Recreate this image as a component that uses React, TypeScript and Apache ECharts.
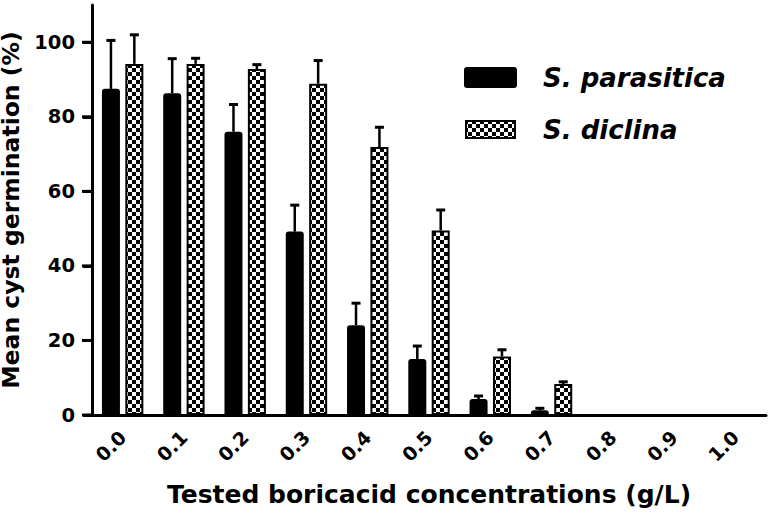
import React, { useEffect, useRef } from "react";
import * as echarts from "echarts";

const categories = ["0.0", "0.1", "0.2", "0.3", "0.4", "0.5", "0.6", "0.7", "0.8", "0.9", "1.0"];
const parasitica = [87.5, 86.3, 76.0, 49.2, 24.1, 15.0, 4.3, 1.3, 0, 0, 0];
const parasiticaErr = [13.0, 9.3, 7.3, 7.1, 5.9, 3.5, 0.8, 0.5, 0, 0, 0];
const diclina = [94.2, 94.2, 92.8, 88.9, 71.9, 49.5, 15.7, 8.3, 0, 0, 0];
const diclinaErr = [7.8, 1.5, 1.2, 6.2, 5.3, 5.5, 1.8, 0.6, 0, 0, 0];
const yTicks = [0, 20, 40, 60, 80, 100];
const seriesNames = ["S. parasitica", "S. diclina"];

const FONT = "DejaVu Sans";
const GRID = { left: 92, right: 5, top: 5, bottom: 98 };
const Y_MAX = 110;

function makeChecker(): HTMLCanvasElement {
  const c = document.createElement("canvas");
  c.width = 8;
  c.height = 8;
  const ctx = c.getContext("2d")!;
  ctx.fillStyle = "#ffffff";
  ctx.fillRect(0, 0, 8, 8);
  ctx.fillStyle = "#000000";
  ctx.fillRect(0, 0, 4, 4);
  ctx.fillRect(4, 4, 4, 4);
  return c;
}

export default function App() {
  const ref = useRef<HTMLDivElement>(null);
  useEffect(() => {
    if (!ref.current) return;
    const chart = echarts.init(ref.current, null, { renderer: "svg" });
    const checker = { image: makeChecker(), repeat: "repeat" } as any;
    const OFF = 11.7;
    const errSeries = (vals: number[], errs: number[], offset: number) => ({
      type: "custom",
      data: vals.map((v, i) => [i, v, errs[i]]),
      z: 5,
      renderItem: (params: any, api: any) => {
        const i = api.value(0);
        const v = api.value(1);
        const e = api.value(2);
        if (!e) return null;
        const base = api.coord([i, v]);
        const top = api.coord([i, v + e]);
        const x = base[0] + offset;
        return {
          type: "group",
          children: [
            { type: "line", shape: { x1: x, y1: base[1], x2: x, y2: top[1] }, style: { stroke: "#000", lineWidth: 2.5 } },
            { type: "line", shape: { x1: x - 4.5, y1: top[1], x2: x + 4.5, y2: top[1] }, style: { stroke: "#000", lineWidth: 3 } },
          ],
        };
      },
    });
    const legendGraphics: any[] = [
      { type: "rect", shape: { x: 464, y: 67, width: 53, height: 21, r: 3 }, style: { fill: "#000" } },
      { type: "rect", shape: { x: 466, y: 121, width: 49, height: 17 }, style: { fill: checker, stroke: "#000", lineWidth: 2 } },
      {
        type: "text", x: 543, y: 78,
        style: { text: seriesNames[0], fontFamily: FONT, fontWeight: "bold", fontStyle: "italic", fontSize: 26, fill: "#000", verticalAlign: "middle" },
      },
      {
        type: "text", x: 543, y: 130,
        style: { text: seriesNames[1], fontFamily: FONT, fontWeight: "bold", fontStyle: "italic", fontSize: 26, fill: "#000", verticalAlign: "middle" },
      },
    ];
    chart.setOption({
      animation: false,
      grid: { ...GRID, containLabel: false, outerBoundsMode: "none" },
      xAxis: {
        type: "category",
        data: categories,
        name: "Tested boricacid concentrations (g/L)",
        nameLocation: "middle",
        nameGap: 67,
        nameTextStyle: { fontFamily: FONT, fontWeight: "bold", fontSize: 25, color: "#000" },
        axisLine: { lineStyle: { color: "#000", width: 3 } },
        axisTick: { alignWithLabel: true, length: 9, lineStyle: { color: "#000", width: 3 } },
        axisLabel: { rotate: 45, margin: 19, fontFamily: FONT, fontWeight: "bold", fontSize: 19, color: "#000" },
      },
      yAxis: {
        type: "value",
        min: 0,
        max: Y_MAX,
        interval: 20,
        name: "Mean cyst germination (%)",
        nameLocation: "middle",
        nameGap: 62,
        nameTextStyle: { fontFamily: FONT, fontWeight: "bold", fontSize: 23.5, lineHeight: 25, color: "#000" },
        splitLine: { show: false },
        axisLine: { show: true, lineStyle: { color: "#000", width: 3 } },
        axisTick: { show: true, inside: false, length: 9, lineStyle: { color: "#000", width: 3 } },
        axisLabel: { margin: 17, showMaxLabel: false, fontFamily: FONT, fontWeight: "bold", fontSize: 19.5, color: "#000" },
      },
      series: [
        {
          name: seriesNames[0],
          type: "bar",
          data: parasitica,
          barWidth: 18,
          barGap: "30%",
          itemStyle: { color: "#000", borderRadius: [3, 3, 0, 0] },
        },
        {
          name: seriesNames[1],
          type: "bar",
          data: diclina,
          barWidth: 18,
          barGap: "30%",
          itemStyle: { color: checker, borderColor: "#000", borderWidth: 2 },
        },
        errSeries(parasitica, parasiticaErr, -OFF),
        errSeries(diclina, diclinaErr, OFF),
      ],
      graphic: legendGraphics,
    });
    // y-axis ticks, placed through the y axis scale
    const plotH = 513 - GRID.top - GRID.bottom;
    const tickGraphics = yTicks.map((v) => {
      let y = NaN;
      try {
        const r = chart.convertToPixel({ yAxisIndex: 0 } as any, v) as any;
        y = typeof r === "number" ? r : NaN;
      } catch (e) {
        y = NaN;
      }
      if (!isFinite(y)) y = GRID.top + ((Y_MAX - v) / Y_MAX) * plotH;
      return {
        type: "line",
        shape: { x1: GRID.left - 10, y1: y, x2: GRID.left, y2: y },
        style: { stroke: "#000", lineWidth: 3 },
        z: 50,
      };
    });
    chart.setOption({ graphic: [...legendGraphics, ...tickGraphics] });
    return () => chart.dispose();
  }, []);
  return <div ref={ref} style={{ width: 771, height: 513, position: "absolute", left: 0, top: 0 }} />;
}
